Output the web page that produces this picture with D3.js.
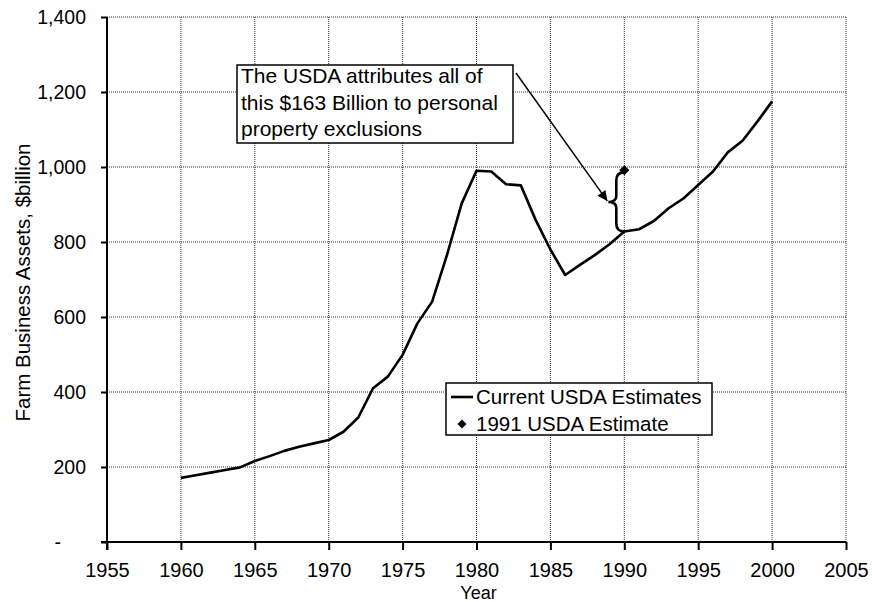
<!DOCTYPE html>
<html>
<head>
<meta charset="utf-8">
<script src="https://cdn.jsdelivr.net/npm/d3@7"></script>
<style>
  html, body { margin: 0; padding: 0; background: #fff; }
  svg { display: block; font-family: "Liberation Sans", Arial, sans-serif; }
</style>
</head>
<body>
<svg id="chart" width="872" height="602"></svg>
<script>
// ---- Data ----
const years = [1960,1961,1962,1963,1964,1965,1966,1967,1968,1969,1970,1971,1972,1973,1974,1975,1976,1977,1978,1979,1980,1981,1982,1983,1984,1985,1986,1987,1988,1989,1990,1991,1992,1993,1994,1995,1996,1997,1998,1999,2000];
const currentEstimates = [171,178,185,192,199,216,229,243,254,263,272,294,332,410,441,499,583,641,765,903,990,988,954,951,859,780,712,739,765,794,828,834,856,890,916,952,988,1039,1070,1121,1175];
const estimate1991Year = [1990];
const estimate1991Value = [991];
const xTicks = [1955,1960,1965,1970,1975,1980,1985,1990,1995,2000,2005];
const yTicks = [0,200,400,600,800,1000,1200,1400];
const legendLabels = ["Current USDA Estimates", "1991 USDA Estimate"];
const annotationLines = ["The USDA attributes all of", "this $163 Billion to personal", "property exclusions"];
const xTitle = "Year";
const yTitle = "Farm Business Assets, $billion";

// ---- Layout ----
const svg = d3.select("#chart");
const pL = 107, pR = 846, pT = 17, pB = 542;
const x = d3.scaleLinear().domain([1955, 2005]).range([pL, pR]);
const y = d3.scaleLinear().domain([0, 1400]).range([pB, pT]);
const font = "\"Liberation Sans\", Arial, sans-serif";

// gridlines
const grid = svg.append("g");
grid.selectAll("line.h").data(yTicks.filter(d => d > 0)).join("line")
  .attr("x1", pL).attr("x2", pR)
  .attr("y1", d => y(d)).attr("y2", d => y(d))
  .attr("stroke", "#333").attr("stroke-width", 1).attr("stroke-dasharray", "1,1");
grid.selectAll("line.v").data(xTicks.filter(d => d > 1955)).join("line")
  .attr("y1", pT).attr("y2", pB)
  .attr("x1", d => x(d)).attr("x2", d => x(d))
  .attr("stroke", "#333").attr("stroke-width", 1).attr("stroke-dasharray", "1,1");

// axes
const yAxis = svg.append("g").attr("transform", `translate(${pL},0)`)
  .call(d3.axisLeft(y).tickValues(yTicks).tickSize(6).tickPadding(15)
    .tickFormat(d => d === 0 ? "-" : d3.format(",")(d)));
yAxis.select(".domain").attr("stroke", "#000").attr("stroke-width", 2).attr("d", `M0,${pB + 8}V${pT}`);
yAxis.selectAll(".tick line").attr("stroke", "#000").attr("stroke-width", 2);
yAxis.selectAll(".tick text").attr("font-size", 19.5).attr("font-family", font).attr("fill", "#000")
  .filter(d => d === 0).attr("dx", -25);

const xAxis = svg.append("g").attr("transform", `translate(0,${pB})`)
  .call(d3.axisBottom(x).tickValues(xTicks).tickSize(8).tickPadding(13).tickFormat(d3.format("d")));
xAxis.select(".domain").attr("stroke", "#000").attr("stroke-width", 2).attr("d", `M${pL - 6},0H${pR}`);
xAxis.selectAll(".tick line").attr("stroke", "#000").attr("stroke-width", 2);
xAxis.selectAll(".tick text").attr("font-size", 20).attr("font-family", font).attr("fill", "#000");

// axis titles
svg.append("text").attr("x", x(1980) + 2).attr("y", 599).attr("text-anchor", "middle")
  .attr("font-size", 18).attr("font-family", font).text(xTitle);
svg.append("text").attr("transform", `translate(22,${(pT + pB) / 2 + 3}) rotate(-90)`)
  .attr("text-anchor", "middle").attr("dominant-baseline", "central")
  .attr("font-size", 20.5).attr("font-family", font).text(yTitle);

// main line
const line = d3.line().x((d, i) => x(years[i])).y(d => y(d));
svg.append("path").datum(currentEstimates).attr("d", line)
  .attr("fill", "none").attr("stroke", "#000").attr("stroke-width", 2.6).attr("stroke-linejoin", "round");

// 1991 estimate diamond (rotated square)
svg.selectAll("path.pt").data(estimate1991Value).join("path")
  .attr("transform", (d, i) => `translate(${x(estimate1991Year[i])},${y(d)}) rotate(45)`)
  .attr("d", d3.symbol(d3.symbolSquare, 50)).attr("fill", "#000");

// brace between current 1990 value and 1991 estimate
const i90 = years.indexOf(estimate1991Year[0]);
const xr = x(estimate1991Year[0]), xb = xr - 8, xt = xr - 16;
const yTop = y(estimate1991Value[0]) + 2, yBot = y(currentEstimates[i90]), yMid = (yTop + yBot) / 2;
svg.append("path")
  .attr("d", `M${xr},${yTop} Q${xb},${yTop} ${xb},${yTop + 8} L${xb},${yMid - 6} Q${xb},${yMid} ${xt},${yMid} Q${xb},${yMid} ${xb},${yMid + 6} L${xb},${yBot - 8} Q${xb},${yBot} ${xr},${yBot}`)
  .attr("fill", "none").attr("stroke", "#000").attr("stroke-width", 2.6);

// annotation box
const bx = 237, by = 65, bw = 276, bh = 78;
svg.append("rect").attr("x", bx).attr("y", by).attr("width", bw).attr("height", bh)
  .attr("fill", "#fff").attr("stroke", "#000").attr("stroke-width", 1.5);
svg.append("g").selectAll("text").data(annotationLines).join("text")
  .attr("x", bx + 4).attr("y", (d, i) => by + 18 + i * 26.5)
  .attr("font-size", 21).attr("font-family", font).text(d => d);

// arrow
svg.append("defs").append("marker").attr("id", "ah").attr("viewBox", "0 0 10 10")
  .attr("refX", 10).attr("refY", 5).attr("markerWidth", 14).attr("markerHeight", 10)
  .attr("markerUnits", "userSpaceOnUse").attr("orient", "auto")
  .append("path").attr("d", "M0,0L10,5L0,10Z").attr("fill", "#000");
svg.append("line").attr("x1", bx + bw + 3).attr("y1", by + 8).attr("x2", xt - 1).attr("y2", yMid - 1)
  .attr("stroke", "#000").attr("stroke-width", 1.5).attr("marker-end", "url(#ah)");

// legend
const lx = 446, ly = 383, lw = 266, lh = 52;
svg.append("rect").attr("x", lx).attr("y", ly).attr("width", lw).attr("height", lh)
  .attr("fill", "#fff").attr("stroke", "#000").attr("stroke-width", 1.5);
svg.append("line").attr("x1", lx + 5).attr("x2", lx + 27).attr("y1", ly + 14).attr("y2", ly + 14)
  .attr("stroke", "#000").attr("stroke-width", 2.6);
svg.append("path").attr("transform", `translate(${lx + 16},${ly + 41}) rotate(45)`)
  .attr("d", d3.symbol(d3.symbolSquare, 40)).attr("fill", "#000");
svg.append("g").selectAll("text").data(legendLabels).join("text")
  .attr("x", lx + 30).attr("y", (d, i) => ly + 21 + i * 27)
  .attr("font-size", 20.5).attr("font-family", font).text(d => d);
</script>
</body>
</html>
